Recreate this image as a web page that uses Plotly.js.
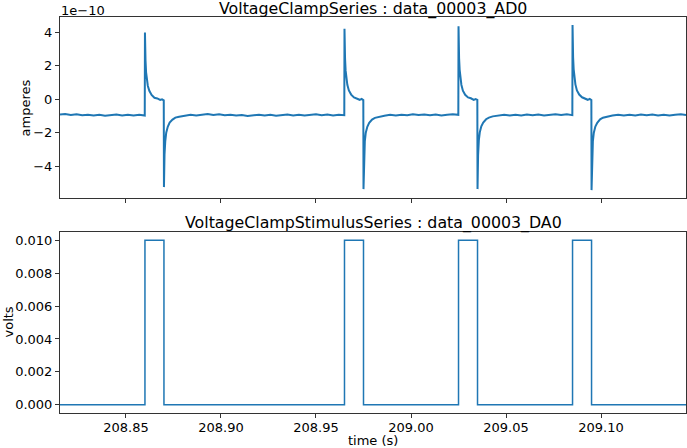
<!DOCTYPE html>
<html>
<head>
<meta charset="utf-8">
<script src="https://cdn.plot.ly/plotly-3.0.1.min.js"></script>
<style>
  html, body { margin: 0; padding: 0; background: white; }
  #plot { width: 687px; height: 448px; }
</style>
</head>
<body>
<div id="plot"></div>
<script>
// time offsets in ms after t0_s
var t0_s = 208.8

// AD0 current, in units of 1e-10 A
var ad0_t_ms = [
    15.3, 18, 21, 24, 27, 30, 33, 36, 39, 42, 45, 48, 51, 54, 57, 59.9,
    60.0, 60.3, 60.6, 61.0, 61.5, 62.3, 63.5, 65, 66.5, 68, 69, 69.9,
    70.0, 70.3, 70.7, 71.2, 72, 73, 74.5, 76, 78, 81, 84, 87,
    90, 93, 96, 99, 102, 105, 108, 111, 114, 117, 120, 123, 126, 129, 132,
    135, 138, 141, 144, 147, 150, 153, 156, 159, 162, 164.9,
    165.0, 165.3, 165.6, 166.0, 166.5, 167.3, 168.5, 170, 171.5, 173, 174, 174.9,
    175.0, 175.3, 175.7, 176.2, 177, 178, 179.5, 181, 183, 186, 189,
    192, 195, 198, 201, 204, 207, 210, 213, 216, 219, 222, 224.9,
    225.0, 225.3, 225.6, 226.0, 226.5, 227.3, 228.5, 230, 231.5, 233, 234, 234.9,
    235.0, 235.3, 235.7, 236.2, 237, 238, 239.5, 241, 243, 246, 249,
    252, 255, 258, 261, 264, 267, 270, 273, 276, 279, 282, 284.9,
    285.0, 285.3, 285.6, 286.0, 286.5, 287.3, 288.5, 290, 291.5, 293, 294, 294.9,
    295.0, 295.3, 295.7, 296.2, 297, 298, 299.5, 301, 303, 306, 309,
    312, 315, 318, 321, 324, 327, 330, 333, 336, 339, 342, 344.7
]
var ad0_amps_e10 = [
    -0.92, -0.89, -0.95, -0.90, -0.96, -0.93, -0.98, -0.94, -0.99, -0.96, -0.92, -0.97, -0.93, -0.98, -0.94, -0.98,
    3.98, 2.30, 1.60, 1.15, 0.80, 0.50, 0.25, 0.08, 0.04, -0.05, -0.01, -0.07,
    -5.25, -3.30, -2.50, -2.00, -1.65, -1.40, -1.22, -1.10, -1.05, -0.98, -0.93, -0.97,
    -0.92, -0.89, -0.95, -0.91, -0.96, -0.93, -0.98, -0.95, -1.00, -0.96, -0.93, -0.98, -0.94, -0.99, -0.95,
    -0.92, -0.97, -0.93, -0.98, -0.94, -0.91, -0.96, -0.92, -0.97, -0.93, -0.96,
    4.20, 2.40, 1.70, 1.20, 0.85, 0.52, 0.27, 0.10, 0.05, -0.04, 0.01, -0.06,
    -5.37, -3.40, -2.50, -2.00, -1.65, -1.42, -1.22, -1.12, -1.05, -0.99, -0.94,
    -0.98, -0.93, -0.96, -0.91, -0.95, -0.92, -0.96, -0.92, -0.97, -0.93, -0.91, -0.94,
    4.35, 2.45, 1.75, 1.22, 0.86, 0.50, 0.26, 0.10, 0.05, -0.05, 0.00, -0.05,
    -5.37, -3.35, -2.45, -1.98, -1.62, -1.40, -1.20, -1.10, -1.03, -0.97, -0.93,
    -0.98, -0.93, -0.97, -0.92, -0.96, -0.92, -0.97, -0.93, -0.90, -0.95, -0.91, -0.96,
    4.42, 2.50, 1.78, 1.25, 0.88, 0.52, 0.27, 0.11, 0.05, -0.04, 0.01, -0.06,
    -5.43, -3.40, -2.50, -2.00, -1.64, -1.41, -1.21, -1.11, -1.04, -0.98, -0.94,
    -0.98, -0.93, -0.97, -0.92, -0.96, -0.92, -0.97, -0.93, -0.97, -0.94, -0.91, -0.95
]

// DA0 stimulus steps (volts), held until the next time
var da0_t_ms = [15.3, 60, 70, 165, 175, 225, 235, 285, 295, 344.7]
var da0_volts = [0, 0.01, 0, 0.01, 0, 0.01, 0, 0.01, 0, 0]

var x_range_ms = [15.3, 344.7]
var x_tick_labels = ['208.85', '208.90', '208.95', '209.00', '209.05', '209.10']
var amp_ticks = [-4, -2, 0, 2, 4]
var volt_ticks = [0, 0.002, 0.004, 0.006, 0.008, 0.010]

function to_s(ms) {
    return ms.map(function (m) { return t0_s + m / 1000 })
}

var blue = '#1f77b4'
var font = 'DejaVu Sans, sans-serif'
var tick_size = 13
var title_size = 15.8

var trace_ad0 = {
    x: to_s(ad0_t_ms),
    y: ad0_amps_e10,
    mode: 'lines',
    line: { color: blue, width: 2 },
    xaxis: 'x',
    yaxis: 'y',
    hoverinfo: 'skip'
}

var trace_da0 = {
    x: to_s(da0_t_ms),
    y: da0_volts,
    mode: 'lines',
    line: { color: blue, width: 1.5, shape: 'hv' },
    xaxis: 'x2',
    yaxis: 'y2',
    hoverinfo: 'skip'
}

var tickvals_x = x_tick_labels.map(Number)

var axis_common = {
    showline: true,
    mirror: true,
    linecolor: '#333',
    linewidth: 1,
    showgrid: false,
    zeroline: false,
    ticks: 'outside',
    ticklen: 4,
    tickwidth: 1,
    tickcolor: '#333',
    tickfont: { family: font, size: tick_size, color: 'black' }
}

var layout = {
    width: 687,
    height: 448,
    margin: { l: 0, r: 0, t: 0, b: 0 },
    paper_bgcolor: 'white',
    plot_bgcolor: 'white',
    showlegend: false,
    font: { family: font, color: 'black' },
    xaxis: Object.assign({}, axis_common, {
        domain: [60 / 687, 686 / 687],
        anchor: 'y',
        range: to_s(x_range_ms),
        tickvals: tickvals_x,
        showticklabels: false
    }),
    yaxis: Object.assign({}, axis_common, {
        domain: [1 - 198 / 448, 1 - 17 / 448],
        anchor: 'x',
        range: [-5.9, 4.9],
        tickvals: amp_ticks,
        ticktext: amp_ticks.map(function (v) { return v < 0 ? '\u2212' + (-v) : String(v) })
    }),
    xaxis2: Object.assign({}, axis_common, {
        domain: [60 / 687, 686 / 687],
        anchor: 'y2',
        range: to_s(x_range_ms),
        tickvals: tickvals_x,
        ticktext: x_tick_labels,
        ticklabelstandoff: -2
    }),
    yaxis2: Object.assign({}, axis_common, {
        domain: [1 - 413 / 448, 1 - 232 / 448],
        anchor: 'x2',
        range: [-0.0005, 0.0105],
        tickvals: volt_ticks,
        ticktext: volt_ticks.map(function (v) { return v.toFixed(3) })
    }),
    annotations: [
        { text: 'VoltageClampSeries : data_00003_AD0', xref: 'paper', yref: 'paper',
          x: 373 / 687, y: 1 - 9 / 448, showarrow: false, xanchor: 'center', yanchor: 'middle',
          font: { family: font, size: title_size, color: 'black' } },
        { text: 'VoltageClampStimulusSeries : data_00003_DA0', xref: 'paper', yref: 'paper',
          x: 373 / 687, y: 1 - 223 / 448, showarrow: false, xanchor: 'center', yanchor: 'middle',
          font: { family: font, size: title_size, color: 'black' } },
        { text: '1e\u221210', xref: 'paper', yref: 'paper',
          x: 59 / 687, y: 1 - 10 / 448, showarrow: false, xanchor: 'left', yanchor: 'middle',
          font: { family: font, size: tick_size, color: 'black' } },
        { text: 'amperes', xref: 'paper', yref: 'paper', textangle: -90,
          x: 25 / 687, y: 1 - 107.5 / 448, showarrow: false, xanchor: 'center', yanchor: 'middle',
          font: { family: font, size: tick_size, color: 'black' } },
        { text: 'volts', xref: 'paper', yref: 'paper', textangle: -90,
          x: 8 / 687, y: 1 - 322.5 / 448, showarrow: false, xanchor: 'center', yanchor: 'middle',
          font: { family: font, size: tick_size, color: 'black' } },
        { text: 'time (s)', xref: 'paper', yref: 'paper',
          x: 373 / 687, y: 1 - 440 / 448, showarrow: false, xanchor: 'center', yanchor: 'middle',
          font: { family: font, size: tick_size, color: 'black' } }
    ]
}

Plotly.newPlot('plot', [trace_ad0, trace_da0], layout, { staticPlot: true, displayModeBar: false })
</script>
</body>
</html>
